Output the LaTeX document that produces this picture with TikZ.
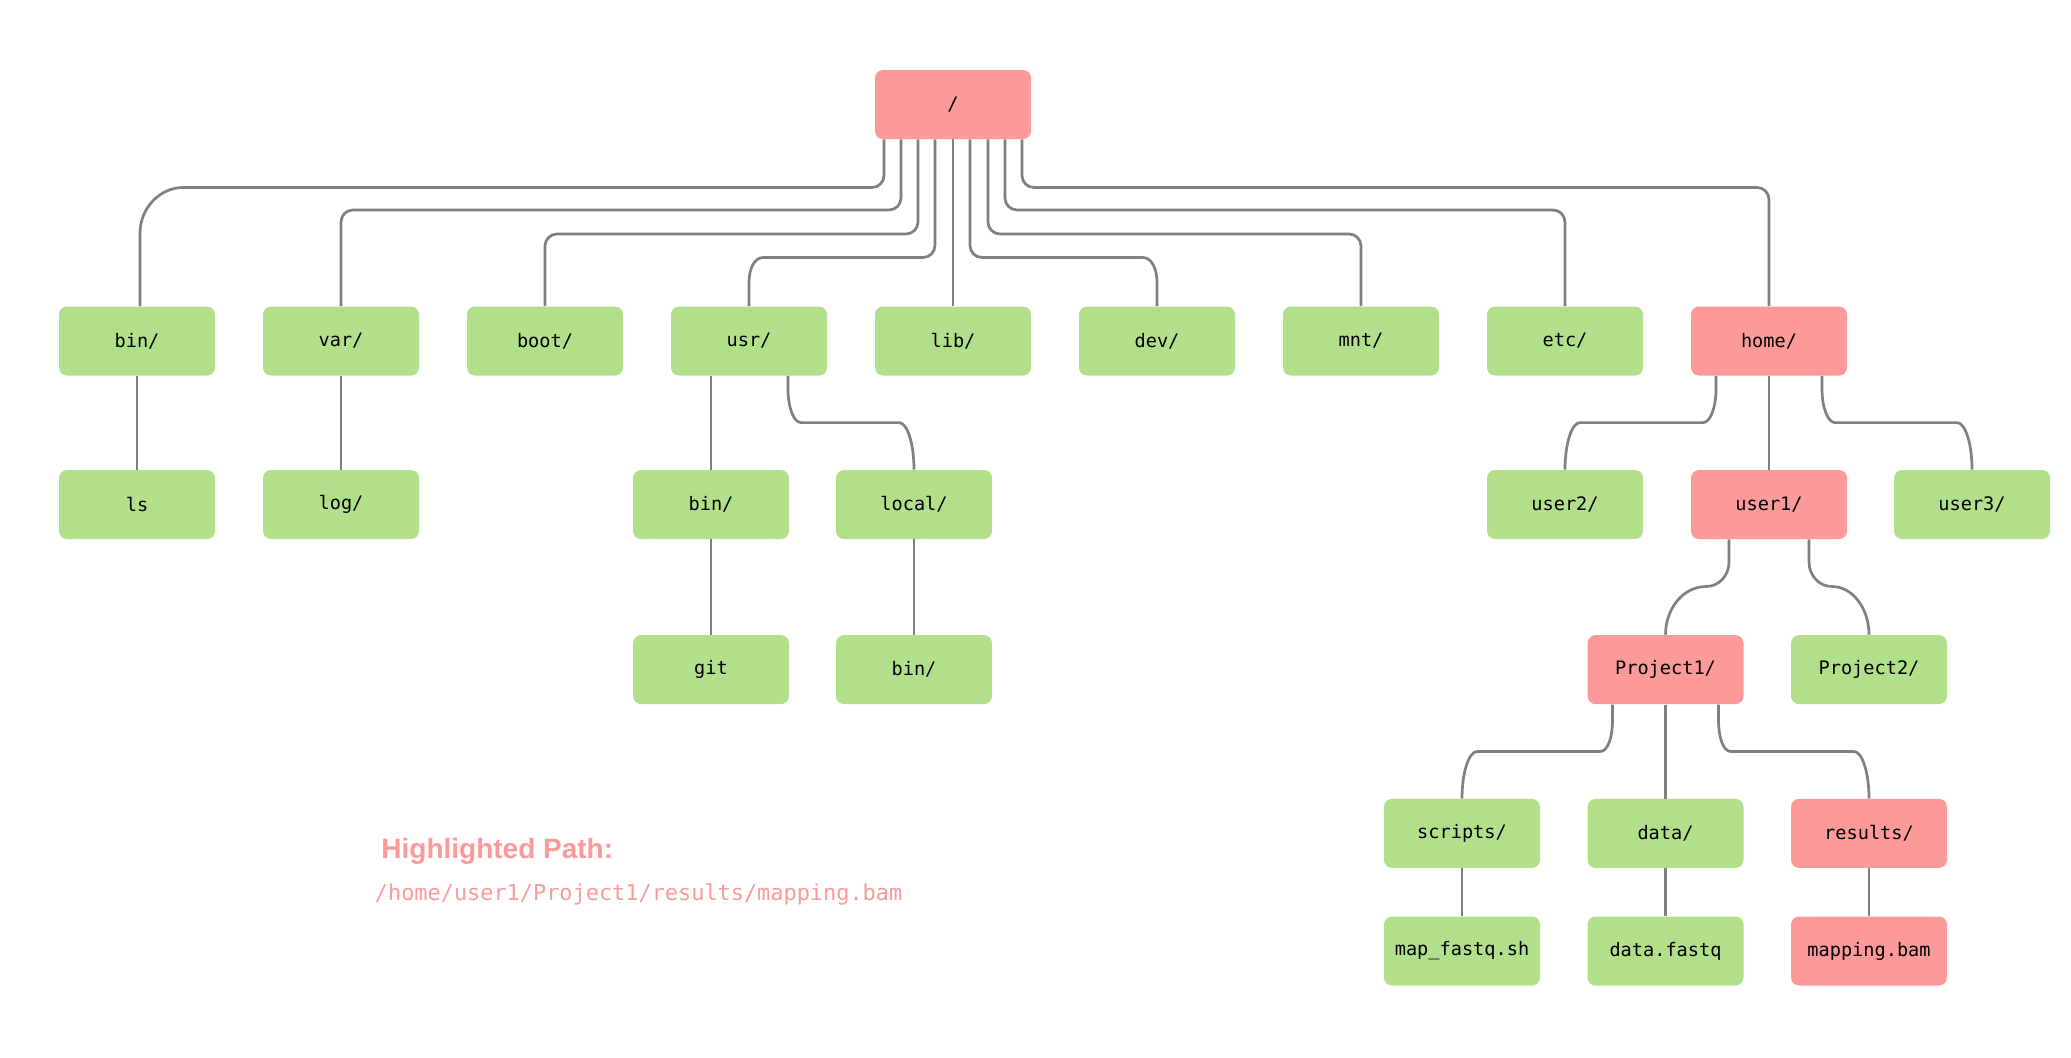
\documentclass[tikz,border=0pt]{standalone}
\usepackage{fontspec}
\setmonofont{DejaVu Sans Mono}
\newfontfamily\headfont{Liberation Sans}
\usetikzlibrary{calc}
\definecolor{pathred}{HTML}{FB9A99}
\definecolor{dirgreen}{HTML}{B2DF8A}
\definecolor{linkgray}{HTML}{808080}

\begin{document}
\begin{tikzpicture}
  [x=0.5pt,y=-0.5pt,
   every node/.style={rectangle,rounded corners=4pt,fill=dirgreen,minimum width=78pt,
     minimum height=34.5pt,inner sep=0pt,font=\ttfamily\fontsize{9.3}{11}\selectfont},
   hl/.style={fill=pathred},
   caption/.style={fill=none,minimum width=0pt,minimum height=0pt,anchor=west,text=pathred},
   link/.style={draw=linkgray,line width=1.35pt}]

  \useasboundingbox (0,0) rectangle (2071,1057);

  % top level
  \node[hl] (root) at (953,104.5) {/};
  \node (bin1) at (137,341) {bin/};
  \node (var) at (341,341) {var/};
  \node (boot) at (545,341) {boot/};
  \node (usr) at (749,341) {usr/};
  \node (lib) at (953,341) {lib/};
  \node (dev) at (1157,341) {dev/};
  \node (mnt) at (1361,341) {mnt/};
  \node (etc) at (1565,341) {etc/};
  \node[hl] (home) at (1769,341) {home/};

  \node (ls) at (137,504.5) {ls};
  \node (log) at (341,504.5) {log/};
  \node (usrbin) at (711,504.5) {bin/};
  \node (local) at (914,504.5) {local/};
  \node (user2) at (1565,504.5) {user2/};
  \node[hl] (user1) at (1769,504.5) {user1/};
  \node (user3) at (1972,504.5) {user3/};

  \node (git) at (711,669.6) {git};
  \node (localbin) at (914,669.6) {bin/};
  \node[hl] (proj1) at (1665.5,669.6) {Project1/};
  \node (proj2) at (1869,669.6) {Project2/};

  \node (scripts) at (1462,833.4) {scripts/};
  \node (data) at (1665.5,833.4) {data/};
  \node[hl] (results) at (1869,833.4) {results/};

  \node (mapfq) at (1462,951) {map\_fastq.sh};
  \node (datafq) at (1665.5,951) {data.fastq};
  \node[hl] (mapping) at (1869,951) {mapping.bam};

  \node[caption,font=\headfont\bfseries\fontsize{14}{17}\selectfont] (title) at (381,851.5) {Highlighted Path:};
  \node[caption,font=\ttfamily\fontsize{10.95}{13}\selectfont] (fullpath) at (374.5,894) {/home/user1/Project1/results/mapping.bam};

  % from root
  \draw[link] ($(root.south)+(-69,0)$) -- (884,175.5) .. controls (884,182) and (878.6,187.5) .. (872,187.5)
    -- (183,187.5) .. controls (160,187.5) and (140,208) .. (140,233) -- ($(bin1.north)+(3,0)$);
  \draw[link,rounded corners=6pt] ($(root.south)+(-52,0)$) -- (901,210) -| (var.north);
  \draw[link,rounded corners=6pt] ($(root.south)+(-35,0)$) -- (918,234) -| (boot.north);
  \draw[link] ($(root.south)+(-18,0)$) -- (935,245.5) .. controls (935,252.1) and (929.6,257.5) .. (923,257.5)
    -- (763,257.5) .. controls (755,257.5) and (749,268) .. (749,282) -- (usr.north);
  \draw[link] (root.south) -- (lib.north);
  \draw[link] ($(root.south)+(17,0)$) -- (970,245.5) .. controls (970,252.1) and (975.4,257.5) .. (982,257.5)
    -- (1143,257.5) .. controls (1151,257.5) and (1157,268) .. (1157,282) -- (dev.north);
  \draw[link,rounded corners=6pt] ($(root.south)+(35,0)$) -- (988,234) -| (mnt.north);
  \draw[link,rounded corners=6pt] ($(root.south)+(52,0)$) -- (1005,210) -| (etc.north);
  \draw[link,rounded corners=6pt] ($(root.south)+(69,0)$) -- (1022,187.5) -| (home.north);

  % left branches
  \draw[link] (bin1) -- (ls);
  \draw[link] (var) -- (log);
  \draw[link] ($(usr.south)+(-38,0)$) -- (usrbin.north);
  \draw[link] ($(usr.south)+(39,0)$) -- (788,389) .. controls (788,407.5) and (793.8,422.6) .. (801,422.6)
    -- (899,422.6) .. controls (907.3,422.6) and (914,443.8) .. (local.north);
  \draw[link] (usrbin) -- (git);
  \draw[link] (local) -- (localbin);

  % home branches
  \draw[link] ($(home.south)+(-53,0)$) -- (1716,389) .. controls (1716,407.5) and (1710.2,422.6) .. (1703,422.6)
    -- (1580,422.6) .. controls (1571.7,422.6) and (1565,443.8) .. (user2.north);
  \draw[link] (home) -- (user1);
  \draw[link] ($(home.south)+(53,0)$) -- (1822,389) .. controls (1822,407.5) and (1827.8,422.6) .. (1835,422.6)
    -- (1957,422.6) .. controls (1965.3,422.6) and (1972,443.8) .. (user3.north);

  \draw[link] ($(user1.south)+(-40,0)$) -- (1729,562) .. controls (1729,575.5) and (1719,586.5) .. (1706,586.5)
    .. controls (1683.6,586.5) and (1665.5,608.2) .. (proj1.north);
  \draw[link] ($(user1.south)+(40,0)$) -- (1809,562) .. controls (1809,575.5) and (1819,586.5) .. (1832,586.5)
    .. controls (1852.4,586.5) and (1869,608.2) .. (proj2.north);

  \draw[link] ($(proj1.south)+(-53,0)$) -- (1612.5,720) .. controls (1612.5,737) and (1608,751.5) .. (1600,751.5)
    -- (1477,751.5) .. controls (1468.7,751.5) and (1462,773) .. (scripts.north);
  \draw[link] (proj1) -- (data);
  \draw[link] ($(proj1.south)+(53,0)$) -- (1718.5,720) .. controls (1718.5,737) and (1723,751.5) .. (1731,751.5)
    -- (1854,751.5) .. controls (1862.3,751.5) and (1869,773) .. (results.north);

  \draw[link] (scripts) -- (mapfq);
  \draw[link] (data) -- (datafq);
  \draw[link] (results) -- (mapping);
\end{tikzpicture}
\end{document}
